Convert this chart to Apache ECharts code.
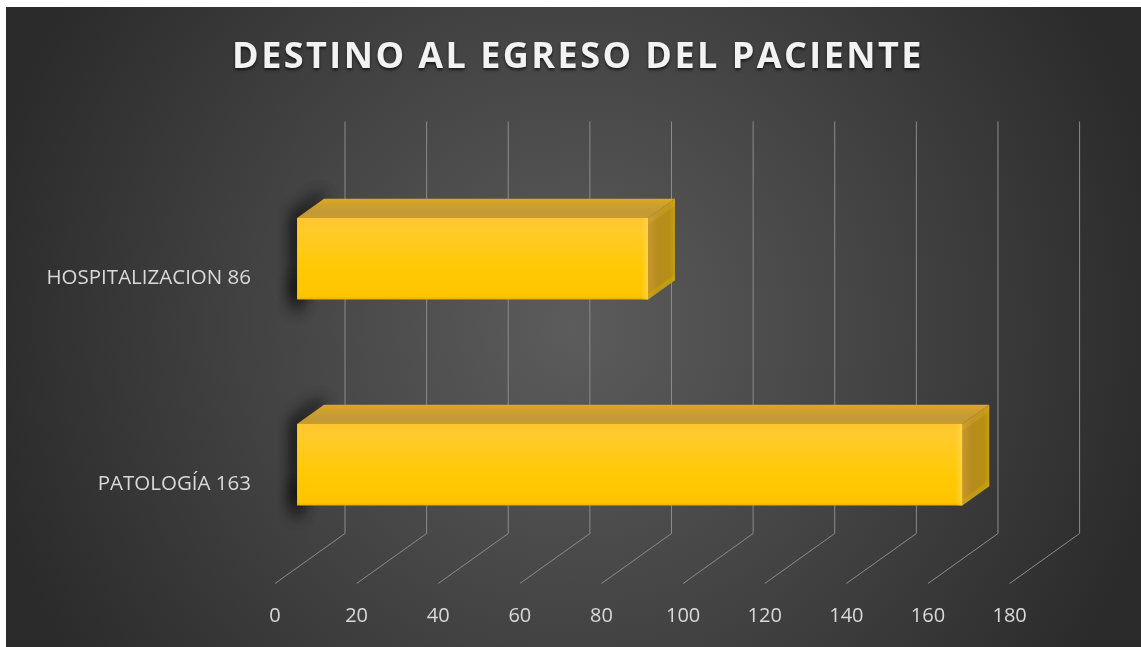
<!DOCTYPE html>
<html>
<head>
<meta charset="utf-8">
<style>html,body{margin:0;padding:0;background:#fff}#main{width:1141px;height:647px}</style>
<script src="https://cdn.jsdelivr.net/npm/echarts@6/dist/echarts.min.js"></script>
</head>
<body>
<div id="main"></div>
<script>
// Horizontal 3D-style bars: discharge destination of patients
const chartTitle = 'DESTINO AL EGRESO DEL PACIENTE';
const categories = ['PATOLOGÍA', 'HOSPITALIZACION'];
const patientCounts = [163, 86];
const axisTicks = [0, 20, 40, 60, 80, 100, 120, 140, 160, 180];

// Oblique projection: depth 0 is the front of the floor, depth 1 the back wall
const DEPTH_X = 70, DEPTH_Y = -50;
const BAR_FRONT = 0.315, BAR_BACK = 0.7, BAR_BAND = 0.396;
const project = (p, d) => [p[0] + DEPTH_X * d, p[1] + DEPTH_Y * d];
const vgrad = (stops) => ({type: 'linear', x: 0, y: 0, x2: 0, y2: 1,
  colorStops: stops.map((c) => ({offset: c[0], color: c[1]}))});
const hgrad = (stops) => ({type: 'linear', x: 0, y: 0, x2: 1, y2: 0,
  colorStops: stops.map((c) => ({offset: c[0], color: c[1]}))});

function renderGridLine(params, api) {
  const v = api.value(0);
  const band = api.size([0, 1])[1];
  const bottom = api.coord([v, 0]);
  bottom[1] += band / 2;
  const top = api.coord([v, 1]);
  top[1] -= band / 2;
  return {
    type: 'polyline',
    shape: {points: [bottom, project(bottom, 1), project(top, 1)]},
    style: {stroke: '#8c8c8c', lineWidth: 1, fill: null}
  };
}

// A dark blurred cast that spreads out from behind the bar's left end
function castShadow(points, dx, dy) {
  const piece = () => ({
    type: 'polygon', silent: true, shape: {points},
    style: {fill: '#26262a', shadowBlur: 16, shadowColor: 'rgba(0,0,0,0.85)',
      shadowOffsetX: dx, shadowOffsetY: dy}
  });
  return [piece(), piece()];
}

function renderBar(params, api) {
  const v = api.value(0), cat = api.value(1);
  const half = api.size([0, 1])[1] * BAR_BAND / 2;
  const start = api.coord([0, cat]), end = api.coord([v, cat]);
  const ft = project([start[0], start[1] - half], BAR_FRONT);
  const fb = project([start[0], start[1] + half], BAR_FRONT);
  const et = project([end[0], end[1] - half], BAR_FRONT);
  const eb = project([end[0], end[1] + half], BAR_FRONT);
  const bt = project([start[0], start[1] - half], BAR_BACK);
  const ebt = project([end[0], end[1] - half], BAR_BACK);
  const ebb = project([end[0], end[1] + half], BAR_BACK);
  return {
    type: 'group',
    children: [
      ...castShadow([[ft[0] + 3, fb[1] - 1], [ft[0] + 3, ft[1] + 1], [bt[0], bt[1] + 2],
                     [bt[0] + 8, bt[1] + 2], [ft[0] + 10, ft[1] + 1], [ft[0] + 10, fb[1] - 1]], -6, -5),
      ...castShadow([[ft[0] + 3, fb[1] - 30], [ft[0] + 9, fb[1] - 30], [ft[0] + 9, fb[1] - 1], [ft[0] + 3, fb[1] - 1]], -6, 11),
      // top face
      {type: 'polygon', shape: {points: [ft, et, ebt, bt]},
       style: {fill: vgrad([[0, '#DDA91F'], [0.3, '#CFA02B'], [0.7, '#C39A38'], [1, '#C99C2C']])}},
      // right end face
      {type: 'polygon', shape: {points: [et, ebt, ebb, eb]},
       style: {fill: hgrad([[0, '#C9962A'], [0.35, '#B68C1E'], [0.8, '#B68F14'], [1, '#C79E0E']])}},
      // lighter slanted rims where the end face meets the top and the floor
      {type: 'polygon', shape: {points: [et, ebt, [ebt[0], ebt[1] + 7], [et[0], et[1] + 7]]},
       style: {fill: 'rgba(222,176,48,0.3)'}},
      {type: 'polygon', shape: {points: [eb, ebb, [ebb[0], ebb[1] - 6], [eb[0], eb[1] - 6]]},
       style: {fill: 'rgba(206,170,10,0.45)'}},
      // front face
      {type: 'rect', shape: {x: ft[0], y: ft[1], width: et[0] - ft[0], height: fb[1] - ft[1]},
       style: {fill: vgrad([[0, '#FFC52E'], [0.15, '#FFCB2B'], [0.6, '#FFC905'], [0.88, '#FFC600'], [0.97, '#FFC200'], [1, '#E3AF00']])}},
      // light bevel on the right edge of the front face
      {type: 'rect', shape: {x: et[0] - 7, y: et[1], width: 7, height: eb[1] - et[1]},
       style: {fill: hgrad([[0, 'rgba(255,216,80,0)'], [1, 'rgba(255,216,80,0.75)']])}}
    ]
  };
}

const chart = echarts.init(document.getElementById('main'));

// The title sits on its own canvas layer so that its tracking leaves other text untouched
const titleLayer = chart.getZr().painter.getLayer(1);
titleLayer.ctx.letterSpacing = '2.45px';

chart.setOption({
  animation: false,
  backgroundColor: '#ffffff',
  title: {
    text: chartTitle, left: 573, top: 35, textAlign: 'center', zlevel: 1,
    textStyle: {fontFamily: 'Open Sans', fontWeight: 'bold', fontSize: 36, color: '#F2F2F2',
      textShadowColor: 'rgba(0,0,0,0.65)', textShadowBlur: 3, textShadowOffsetY: 2}
  },
  graphic: [{
    type: 'rect', z: -10, silent: true,
    shape: {x: 6, y: 7, width: 1135, height: 640},
    style: {fill: {type: 'radial', x: 0.5, y: 0.5, r: 0.94, colorStops: [
      {offset: 0, color: '#5c5c5c'}, {offset: 0.5, color: '#444444'}, {offset: 1, color: '#2b2b2b'}]}}
  }],
  grid: {left: 275, right: 131.4, top: 171.5, bottom: 63.5},
  xAxis: {
    type: 'value', min: 0, max: 180, interval: 20,
    axisLine: {show: false}, axisTick: {show: false}, splitLine: {show: false},
    axisLabel: {color: '#D9D9D9', fontFamily: 'Open Sans', fontSize: 20, margin: 23}
  },
  yAxis: {
    type: 'category',
    data: categories.map((c, i) => c + ' ' + patientCounts[i]),
    axisLine: {show: false}, axisTick: {show: false},
    axisLabel: {color: '#D9D9D9', fontFamily: 'Open Sans', fontSize: 20.5, margin: 24,
      verticalAlign: 'top', lineHeight: 7}
  },
  series: [
    {type: 'custom', name: 'gridlines', z: 1, silent: true, renderItem: renderGridLine,
     encode: {x: 0}, data: axisTicks.map((t) => [t]), clip: false},
    {type: 'custom', name: 'Pacientes', z: 2, renderItem: renderBar,
     encode: {x: 0, y: 1}, data: patientCounts.map((v, i) => [v, i]), clip: false}
  ]
});
</script>
</body>
</html>
